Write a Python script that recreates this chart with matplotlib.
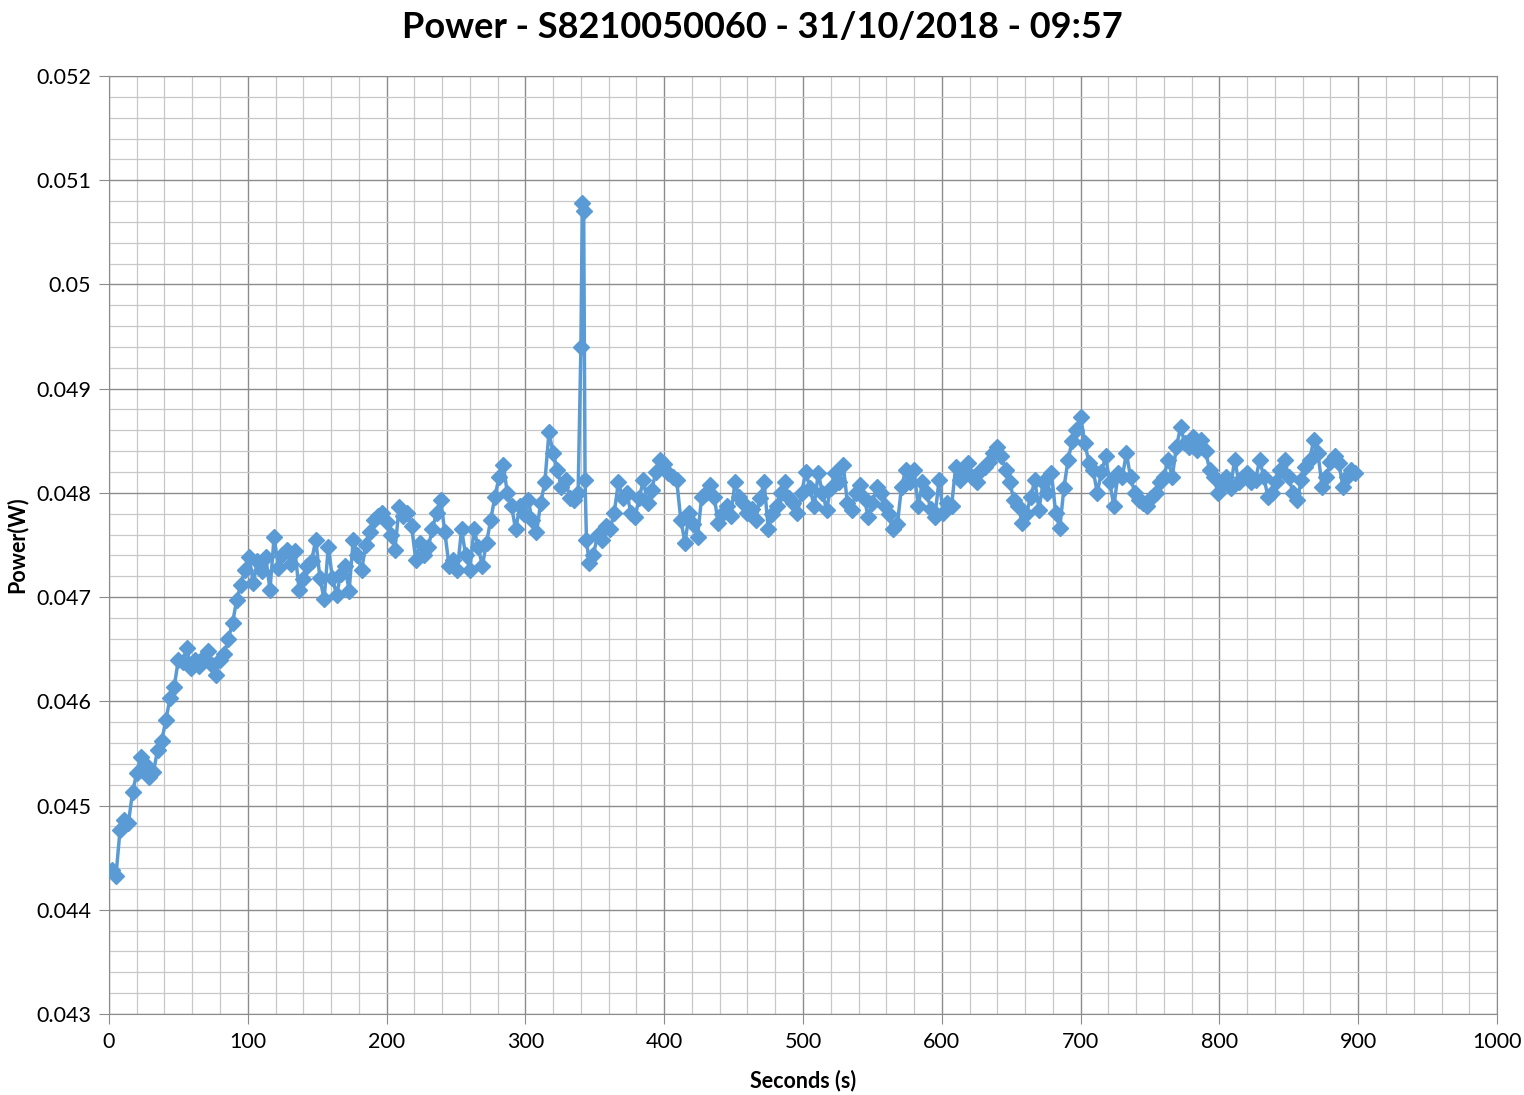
import numpy as np
import matplotlib.pyplot as plt
from matplotlib.ticker import MultipleLocator, FormatStrFormatter

power_a = [0.04438, 0.04432, 0.04477, 0.04486, 0.04483, 0.04513, 0.04531, 0.04547, 0.04540, 0.04527,
           0.04532, 0.04553, 0.04562, 0.04582, 0.04603, 0.04614, 0.04640, 0.04638, 0.04651, 0.04632,
           0.04640, 0.04634, 0.04642, 0.04648, 0.04635, 0.04625, 0.04640, 0.04645, 0.04660, 0.04675,
           0.04697, 0.04712, 0.04726, 0.04738, 0.04714, 0.04735, 0.04725, 0.04738, 0.04707, 0.04758,
           0.04728, 0.04740, 0.04745, 0.04732, 0.04744, 0.04707, 0.04717, 0.04730, 0.04735, 0.04755,
           0.04718, 0.04698, 0.04748, 0.04718, 0.04702, 0.04722, 0.04730, 0.04706, 0.04755, 0.04740,
           0.04726, 0.04750, 0.04762, 0.04774, 0.04778, 0.04781, 0.04772, 0.04760, 0.04745, 0.04786,
           0.04778, 0.04781, 0.04768, 0.04736, 0.04752, 0.04740, 0.04748, 0.04765, 0.04781, 0.04793,
           0.04762, 0.04730, 0.04736, 0.04726, 0.04765, 0.04740, 0.04726, 0.04765, 0.04748, 0.04730,
           0.04752, 0.04774, 0.04796, 0.04815, 0.04827, 0.04800, 0.04787, 0.04765, 0.04787, 0.04780,
           0.04793, 0.04774, 0.04762, 0.04790, 0.04810, 0.04858, 0.04838, 0.04822, 0.04806, 0.04812,
           0.04795, 0.04793, 0.04800]
spike_t = [340, 341, 342, 343, 344]
spike_p = [0.04940, 0.05078, 0.05070, 0.04812, 0.04755]
power_b = [0.04733, 0.04740, 0.04760, 0.04755, 0.04768, 0.04765, 0.04781, 0.04810, 0.04795, 0.04800,
           0.04781, 0.04777, 0.04795, 0.04812, 0.04790, 0.04803, 0.04820, 0.04832, 0.04828, 0.04819,
           0.04815, 0.04812, 0.04774, 0.04752, 0.04781, 0.04770, 0.04758, 0.04796, 0.04800, 0.04808,
           0.04796, 0.04771, 0.04780, 0.04787, 0.04778, 0.04810, 0.04796, 0.04790, 0.04781, 0.04785,
           0.04774, 0.04795, 0.04810, 0.04765, 0.04780, 0.04787, 0.04800, 0.04810, 0.04795, 0.04790,
           0.04781, 0.04800, 0.04820, 0.04805, 0.04787, 0.04819, 0.04800, 0.04784, 0.04805, 0.04819,
           0.04810, 0.04827, 0.04790, 0.04784, 0.04800, 0.04808, 0.04795, 0.04777, 0.04790, 0.04806,
           0.04800, 0.04787, 0.04780, 0.04765, 0.04770, 0.04806, 0.04822, 0.04810, 0.04822, 0.04787,
           0.04810, 0.04800, 0.04785, 0.04777, 0.04812, 0.04781, 0.04790, 0.04787, 0.04825, 0.04812,
           0.04820, 0.04829, 0.04815, 0.04810, 0.04822, 0.04825, 0.04830, 0.04838, 0.04844, 0.04835,
           0.04822, 0.04810, 0.04793, 0.04787, 0.04771, 0.04780, 0.04796, 0.04812, 0.04784, 0.04810,
           0.04800, 0.04819, 0.04781, 0.04766, 0.04805, 0.04832, 0.04850, 0.04860, 0.04873, 0.04848,
           0.04829, 0.04822, 0.04800, 0.04820, 0.04835, 0.04810, 0.04787, 0.04819, 0.04815, 0.04838,
           0.04815, 0.04800, 0.04793, 0.04790, 0.04787, 0.04795, 0.04800, 0.04810, 0.04815, 0.04832,
           0.04815, 0.04844, 0.04863, 0.04848, 0.04844, 0.04854, 0.04841, 0.04851, 0.04840, 0.04822,
           0.04815, 0.04800, 0.04808, 0.04815, 0.04805, 0.04832, 0.04810, 0.04815, 0.04819, 0.04810,
           0.04812, 0.04832, 0.04815, 0.04796, 0.04800, 0.04810, 0.04822, 0.04832, 0.04815, 0.04800,
           0.04793, 0.04812, 0.04825, 0.04832, 0.04851, 0.04838, 0.04806, 0.04815, 0.04830, 0.04835,
           0.04829, 0.04806, 0.04815, 0.04822, 0.04819]

t_a = 2 + 3 * np.arange(len(power_a))
t_b = 346 + 3 * np.arange(len(power_b))
seconds = np.concatenate([t_a, spike_t, t_b])
power = np.concatenate([power_a, spike_p, power_b])

plt.rcParams['font.family'] = ['Lato', 'DejaVu Sans']

fig = plt.figure(figsize=(15.24, 10.95), dpi=100)
ax = fig.add_axes([0.0715, 0.074, 0.9108, 0.8566])

ax.plot(seconds, power, color='#5B9BD5', lw=2.5, marker='D', ms=8.5, zorder=3)

ax.set_xlim(0, 1000)
ax.set_ylim(0.043, 0.052)
ax.xaxis.set_major_locator(MultipleLocator(100))
ax.xaxis.set_minor_locator(MultipleLocator(20))
ax.yaxis.set_major_locator(MultipleLocator(0.001))
ax.yaxis.set_minor_locator(MultipleLocator(0.0002))
ax.yaxis.set_major_formatter(FormatStrFormatter('%g'))

ax.grid(which='major', color='#8c8c8c', lw=1.0)
ax.grid(which='minor', color='#c8c8c8', lw=0.9)
ax.set_axisbelow(True)
for s in ax.spines.values():
    s.set_color('#8c8c8c')
ax.tick_params(which='major', length=7, color='#8c8c8c', labelsize=15.5, pad=6)
ax.tick_params(which='minor', length=0)

ax.set_xlabel('Seconds (s)', fontsize=15.5, fontweight='bold', labelpad=13)
ax.set_ylabel('Power(W)', fontsize=15.5, fontweight='bold', labelpad=6)
fig.suptitle('Power - S8210050060 - 31/10/2018 - 09:57', fontsize=26, fontweight='bold', y=0.99)

fig.savefig('out.png', dpi=100)
